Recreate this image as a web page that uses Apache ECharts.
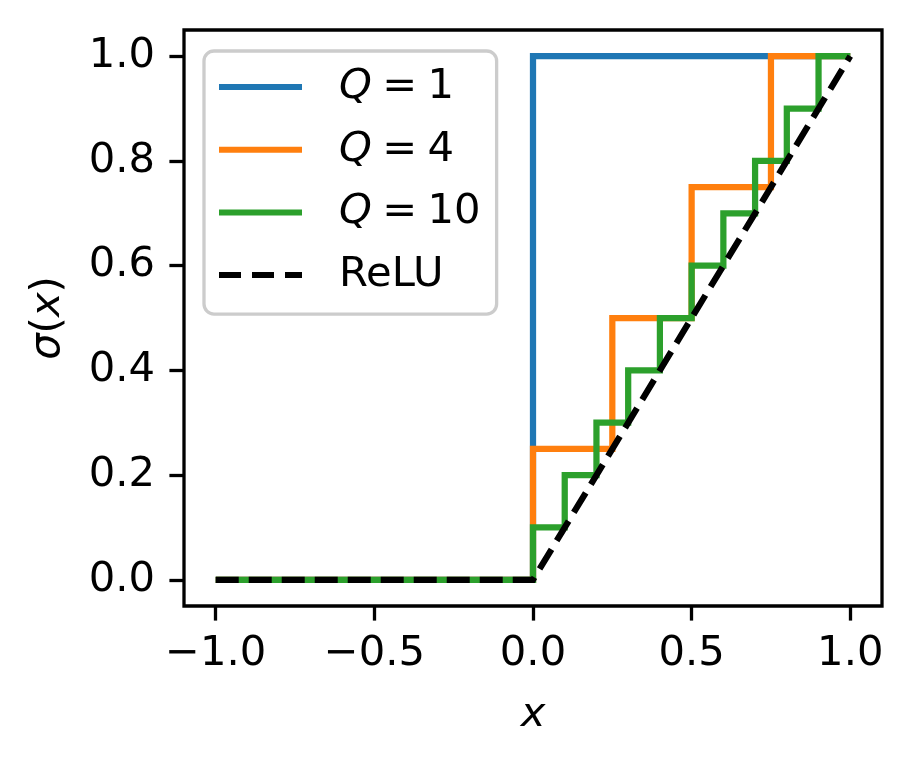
<!DOCTYPE html>
<html>
<head>
<meta charset="utf-8">
<script src="https://cdn.jsdelivr.net/npm/echarts@6/dist/echarts.min.js"></script>
<style>
html,body{margin:0;padding:0;background:#fff;}
#chart{width:913px;height:767px;}
</style>
</head>
<body>
<div id="chart"></div>
<script>
// ---- data ----
const xTicks = [-1.0, -0.5, 0.0, 0.5, 1.0];
const yTicks = [0.0, 0.2, 0.4, 0.6, 0.8, 1.0];

const q1X = [-1, 0, 0, 1];
const q1Y = [0, 0, 1, 1];

const q4X = [-1, 0, 0, 0.25, 0.25, 0.5, 0.5, 0.75, 0.75, 1];
const q4Y = [0, 0, 0.25, 0.25, 0.5, 0.5, 0.75, 0.75, 1, 1];

const q10X = [-1, 0, 0, 0.1, 0.1, 0.2, 0.2, 0.3, 0.3, 0.4, 0.4, 0.5, 0.5, 0.6, 0.6, 0.7, 0.7, 0.8, 0.8, 0.9, 0.9, 1];
const q10Y = [0, 0, 0.1, 0.1, 0.2, 0.2, 0.3, 0.3, 0.4, 0.4, 0.5, 0.5, 0.6, 0.6, 0.7, 0.7, 0.8, 0.8, 0.9, 0.9, 1, 1];

const reluX = [-1, 0, 1];
const reluY = [0, 0, 1];

const seriesNames = ['Q = 1', 'Q = 4', 'Q = 10', 'ReLU'];
const seriesColors = ['#1f77b4', '#ff7f0e', '#2ca02c', '#000000'];

// ---- chart ----
const FONT = 'DejaVu Sans';
const FS = 41.7;
const pairs = (xs, ys) => xs.map((x, i) => [x, ys[i]]);
const fmt = v => (v < 0 ? '\u2212' : '') + Math.abs(v).toFixed(1);

const SOLID_ICON = 'path://M0,0H83V6H0Z';
const DASH_ICON = 'path://M0,0H22V6H0Z M33,0H55V6H33Z M66,0H83V6H66Z';

const chart = echarts.init(document.getElementById('chart'), null, {renderer: 'canvas'});

const lineSeries = (name, xs, ys, color, dashed) => ({
  name: name,
  type: 'line',
  data: pairs(xs, ys),
  showSymbol: false,
  symbol: 'none',
  animation: false,
  lineStyle: {color: color, width: 6.25, type: dashed ? [23, 10] : 'solid', cap: 'butt', join: 'miter'},
  itemStyle: {color: color},
  emphasis: {disabled: true}
});

chart.setOption({
  animation: false,
  backgroundColor: '#fff',
  textStyle: {fontFamily: FONT},
  grid: {
    left: 184, right: 31, top: 30, bottom: 161,
    show: true, borderColor: '#000', borderWidth: 3.3, backgroundColor: '#fff'
  },
  xAxis: {
    type: 'value', min: -1.1, max: 1.1,
    splitLine: {show: false},
    axisLine: {show: false, onZero: false},
    axisTick: {show: true, customValues: xTicks, length: 14.6, lineStyle: {color: '#000', width: 3.3}},
    axisLabel: {customValues: xTicks, formatter: fmt, margin: 27, color: '#000', fontSize: FS, fontFamily: FONT},
    name: 'x', nameLocation: 'middle', nameGap: 88,
    nameTextStyle: {fontSize: FS, fontFamily: FONT, fontStyle: 'italic', color: '#000'}
  },
  yAxis: {
    type: 'value', min: -0.05, max: 1.05,
    splitLine: {show: false},
    axisLine: {show: false, onZero: false},
    axisTick: {show: true, customValues: yTicks, length: 14.6, lineStyle: {color: '#000', width: 3.3}},
    axisLabel: {customValues: yTicks, formatter: fmt, margin: 29, color: '#000', fontSize: FS, fontFamily: FONT},
    name: '{i|σ}({i|x})', nameLocation: 'middle', nameGap: 115, nameRotate: 90,
    nameTextStyle: {fontSize: FS, fontFamily: FONT, color: '#000',
      rich: {i: {fontSize: FS, fontFamily: FONT, fontStyle: 'italic', color: '#000'}}}
  },
  legend: {
    orient: 'vertical',
    left: 204, top: 51,
    data: [
      {name: seriesNames[0], icon: SOLID_ICON},
      {name: seriesNames[1], icon: SOLID_ICON},
      {name: seriesNames[2], icon: SOLID_ICON},
      {name: seriesNames[3], icon: DASH_ICON}
    ],
    itemWidth: 83, itemHeight: 6, itemGap: 14.7,
    itemStyle: {borderWidth: 0},
    padding: [12, 16, 15, 15],
    backgroundColor: 'rgba(255,255,255,0.8)',
    borderColor: '#cccccc', borderWidth: 3.3, borderRadius: 10,
    selectedMode: false,
    formatter: function (n) {
      if (n.startsWith('Q')) return '{i|Q}\u2005=\u2005' + n.split('= ')[1];
      return n;
    },
    textStyle: {fontSize: FS, fontFamily: FONT, color: '#000', lineHeight: 48, padding: [0, 0, 0, 32],
      rich: {i: {fontSize: FS, fontFamily: FONT, fontStyle: 'italic', color: '#000', lineHeight: 48}}}
  },
  series: [
    lineSeries(seriesNames[0], q1X, q1Y, seriesColors[0], false),
    lineSeries(seriesNames[1], q4X, q4Y, seriesColors[1], false),
    lineSeries(seriesNames[2], q10X, q10Y, seriesColors[2], false),
    lineSeries(seriesNames[3], reluX, reluY, seriesColors[3], true)
  ]
});
</script>
</body>
</html>
